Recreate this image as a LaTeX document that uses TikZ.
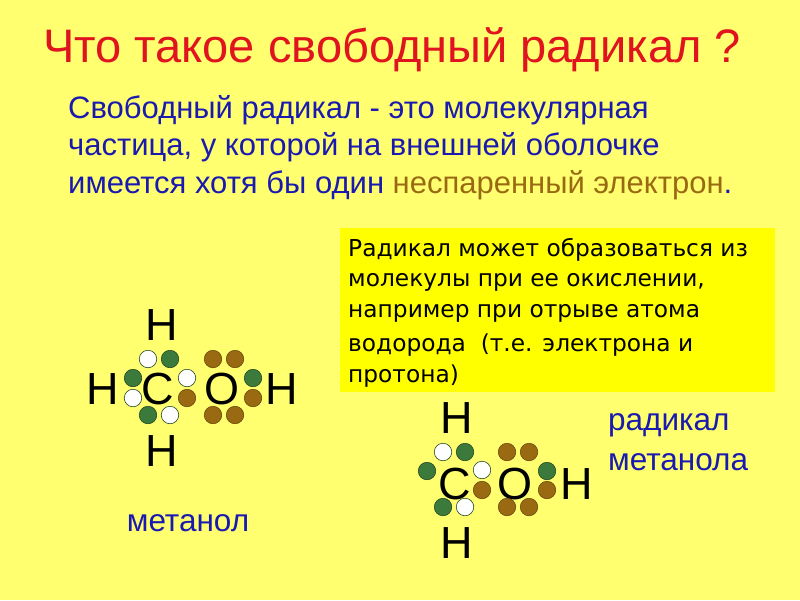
\documentclass[tikz,border=0pt]{standalone}
\usepackage{fontspec}
\setmainfont{Liberation Sans}
\newfontfamily\boxfont{DejaVu Sans}
\definecolor{bg}{HTML}{FFFF70}
\definecolor{bx}{HTML}{FFFF00}
\definecolor{gr}{HTML}{3C7A3C}
\definecolor{br}{HTML}{9A6A12}
\definecolor{bl}{HTML}{1A1AB0}
\definecolor{rd}{HTML}{E0141E}
\tikzset{
 atom/.style={font=\fontsize{45}{45}\selectfont,inner sep=0pt},
 wdot/.style={circle,fill=white,draw=gr!60!black,line width=0.6pt,minimum size=17.5pt,inner sep=0pt},
 gdot/.style={circle,fill=gr,draw=gr!60!black,line width=0.6pt,minimum size=17.5pt,inner sep=0pt},
 bdot/.style={circle,fill=br,draw=br!70!black,line width=0.6pt,minimum size=17.5pt,inner sep=0pt},
 para/.style={anchor=west,text=bl,font=\fontsize{31}{31}\selectfont,inner sep=0pt},
 boxt/.style={anchor=west,font=\boxfont\fontsize{23.3}{23.3}\selectfont,inner sep=0pt},
 lab/.style={text=bl,font=\fontsize{31.5}{31.5}\selectfont,inner sep=0pt}
}
\begin{document}
\begin{tikzpicture}[x=1pt,y=-1pt]
\fill[bg] (0,0) rectangle (800,600);
\useasboundingbox (0,0) rectangle (800,600);
\node[text=rd,font=\fontsize{47}{47}\selectfont] (title) at (392,50) {Что такое свободный радикал ?};
\node[para] (p1) at (68,110) {Свободный радикал - это молекулярная};
\node[para] (p2) at (68,147) {частица, у которой на внешней оболочке};
\node[para] (p3) at (68,185) {имеется хотя бы один \textcolor{br}{неспаренный электрон}.};
\fill[bx] (340,228) rectangle (775,392);
\node[boxt] (b1) at (348,250) {Радикал может образоваться из};
\node[boxt] (b2) at (348,282) {молекулы при ее окислении,};
\node[boxt] (b3) at (348,313) {например при отрыве атома};
\node[boxt] (b4) at (348,345) {водорода \ (т.е. электрона и};
\node[boxt] (b5) at (348,376) {протона)};
% methanol
\node[atom] (h1) at (162,325) {H};
\node[atom] (h2) at (103,389) {H};
\node[atom] (c1) at (158,389) {C};
\node[atom] (o1) at (222,389) {O};
\node[atom] (h3) at (282,389) {H};
\node[atom] (h4) at (162,451) {H};
\node[wdot] (d1) at (148,359) {}; \node[gdot] (d2) at (170,359) {};
\node[gdot] (d3) at (133,378) {}; \node[wdot] (d4) at (133,398) {};
\node[gdot] (d5) at (148,415) {}; \node[wdot] (d6) at (170,415) {};
\node[wdot] (d7) at (187,378) {}; \node[bdot] (d8) at (187,398) {};
\node[bdot] (d9) at (213,359) {}; \node[bdot] (d10) at (235,359) {};
\node[gdot] (d11) at (253,378) {}; \node[bdot] (d12) at (253,398) {};
\node[bdot] (d13) at (213,415) {}; \node[bdot] (d14) at (235,415) {};
\node[lab] (m1) at (188,523) {метанол};
% radical
\node[atom] (rh1) at (457,418) {H};
\node[atom] (rc) at (455,484) {C};
\node[atom] (ro) at (515,484) {O};
\node[atom] (rh2) at (577,484) {H};
\node[atom] (rh3) at (457,543) {H};
\node[wdot] (e1) at (443,452) {}; \node[gdot] (e2) at (465,452) {};
\node[gdot] (e3) at (427,471) {};
\node[wdot] (e4) at (482,470) {}; \node[bdot] (e5) at (482,490) {};
\node[bdot] (e6) at (507,452) {}; \node[bdot] (e7) at (529,452) {};
\node[gdot] (e8) at (547,471) {}; \node[bdot] (e9) at (547,490) {};
\node[gdot] (e10) at (443,507) {}; \node[wdot] (e11) at (465,507) {};
\node[bdot] (e12) at (507,507) {}; \node[bdot] (e13) at (529,507) {};
\node[lab,anchor=west] (r1) at (608,425) {радикал};
\node[lab,anchor=west] (r2) at (608,462) {метанола};
\end{tikzpicture}
\end{document}
